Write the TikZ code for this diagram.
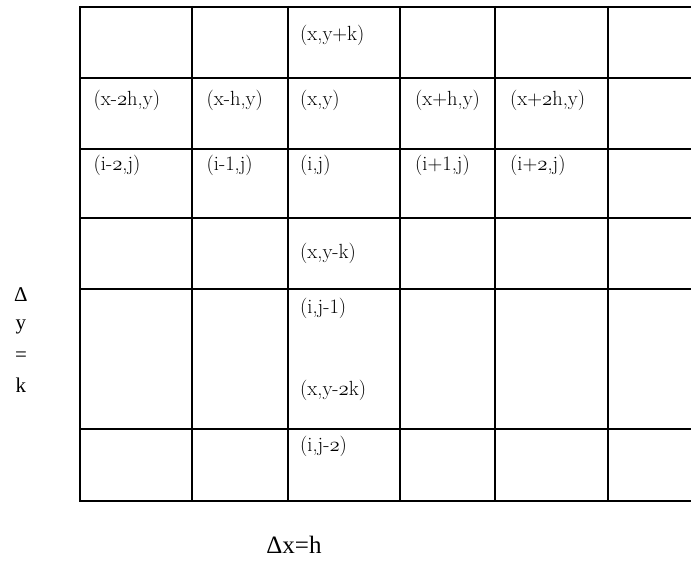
\documentclass[tikz,border=0pt]{standalone}
\usepackage{fontspec}
\newfontfamily\timesfont{Liberation Serif}
\usetikzlibrary{positioning}
\newcommand{\osftwo}{\ensuremath{\mathnormal{2}}}

\begin{document}
\begin{tikzpicture}[
    x=1pt, y=-1pt,
    gridline/.style={line width=2pt},
    cell/.style={anchor=west, inner sep=0pt, font=\fontsize{20.5}{22}\selectfont},
    axis/.style={inner sep=0pt, font=\timesfont\fontsize{21}{24}\selectfont}
  ]
    \useasboundingbox (0,0) rectangle (691,561);
    % grid lines
    \foreach \gy in {7, 78, 149, 218, 289, 429, 501}
      \draw[gridline] (79,\gy) -- (691,\gy);
    \foreach \gx in {80, 192, 288, 400, 495, 608}
      \draw[gridline] (\gx,6) -- (\gx,502);
    % cell labels
    \node[cell] (xyk) at (300,35) {(x,y+k)};
    \node[cell] (xmm) at (93.5,100) {(x-\osftwo h,y)};
    \node[cell] (xm) at (206.5,100) {(x-h,y)};
    \node[cell] (xy) at (300,100) {(x,y)};
    \node[cell] (xp) at (415,100) {(x+h,y)};
    \node[cell] (xpp) at (510,100) {(x+\osftwo h,y)};
    \node[cell] (imm) at (93.5,165.7) {(i-\osftwo,j)};
    \node[cell] (im) at (206.5,165.7) {(i-1,j)};
    \node[cell] (ij) at (300,165.7) {(i,j)};
    \node[cell] (ip) at (415,165.7) {(i+1,j)};
    \node[cell] (ipp) at (510,165.7) {(i+\osftwo,j)};
    \node[cell] (xyk1) at (300,253.3) {(x,y-k)};
    \node[cell] (jm) at (300,308.3) {(i,j-1)};
    \node[cell] (xyk2) at (300,390.7) {(x,y-\osftwo k)};
    \node[cell] (jmm) at (300,446.7) {(i,j-\osftwo)};
    % axis labels
    \node[axis] (dy) at (21,295) {Δ};
    \node[axis] (yy) at (21,326.7) {y};
    \node[axis] (eq) at (21,356.7) {=};
    \node[axis] (kk) at (21,385) {k};
    \node[axis, anchor=base, font=\timesfont\fontsize{25}{28}\selectfont] (dx) at (294,553) {Δx=h};
  \end{tikzpicture}
\end{document}
